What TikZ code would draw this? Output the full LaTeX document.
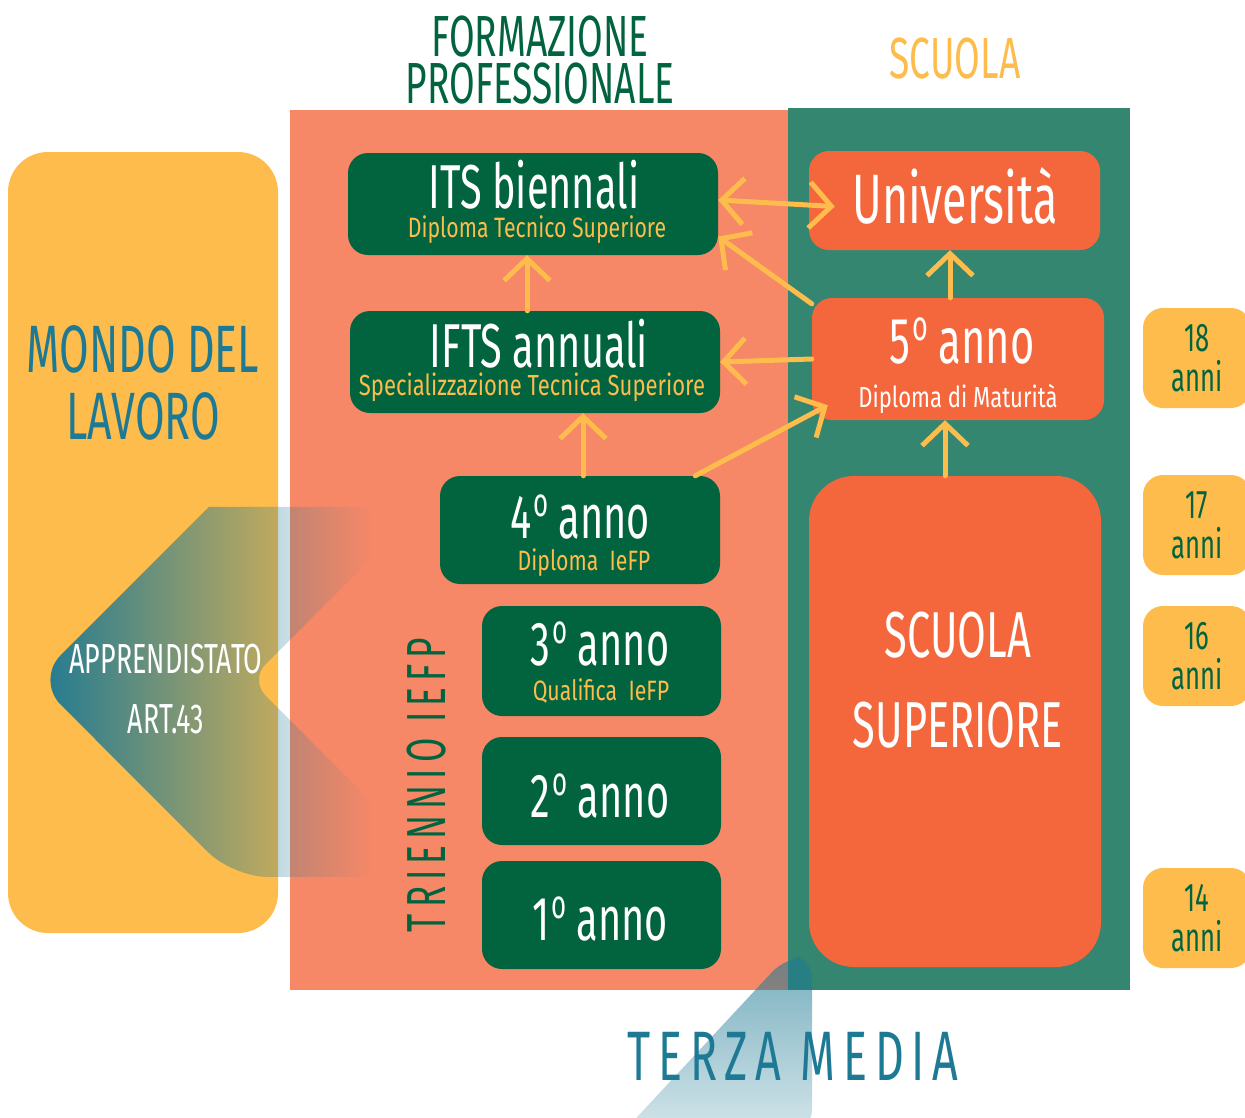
\documentclass[tikz,border=0pt]{standalone}
\usepackage{fontspec}
\setmainfont{Fira Sans}[FakeStretch=0.64]
\newfontfamily\subfam{Fira Sans}[FakeStretch=0.76]
\newfontfamily\spaced{Fira Sans}[FakeStretch=0.64,LetterSpace=11]
\usetikzlibrary{arrows.meta,fadings}

\definecolor{giallo}{RGB}{253,188,75}
\definecolor{verdescuro}{RGB}{2,100,63}
\definecolor{salmone}{RGB}{246,136,104}
\definecolor{verdepan}{RGB}{52,134,112}
\definecolor{arancio}{RGB}{244,103,61}
\definecolor{blu}{RGB}{30,122,148}

\newcommand\setsz[1]{\fontsize{#1}{#1}\selectfont}
\newcommand\ordo{\kern.03em\raisebox{.34em}{\scalebox{.65}{o}}}

\tikzfading[name=fadeR, left color=transparent!0, right color=transparent!100]
\tikzfading[name=fadeD, top color=transparent!40, bottom color=transparent!80]
\tikzset{yb/.tip={Straight Barb[length=22pt,width=46pt]}}

\begin{document}
\begin{tikzpicture}[x=1pt,y=-1pt,
  fpbox/.style={fill=verdescuro, rounded corners=20pt, inner sep=0pt},
  scbox/.style={fill=arancio, rounded corners=20pt, inner sep=0pt},
  eta/.style={fill=giallo, rounded corners=20pt, inner sep=0pt,
    minimum width=108pt, minimum height=100pt, text=verdescuro,
    align=center, font=\setsz{40}},
  txt/.style={anchor=base, inner sep=0pt},
  ttl/.style={txt, text=white, font=\setsz{62}},
  sub/.style={txt, text=giallo, font=\subfam\setsz{28}},
  freccia/.style={draw=giallo, line width=5pt, line cap=round, -yb}]

\useasboundingbox (0,0) rectangle (1245,1117);

% fondi
\fill[giallo, rounded corners=40pt] (8,152) rectangle (278,933);
\fill[salmone] (290,110) rectangle (788,990);
\fill[verdepan] (788,108) rectangle (1130,990);

% apprendistato e terza media
\fill[blu, path fading=fadeR]
  (290,507) -- (370,507) -- (370,560) [rounded corners=22pt] -- (250,680)
  [sharp corners] -- (370,800) -- (370,877) [rounded corners=35pt] -- (233,877)
  -- (36,680) [sharp corners] -- (209,507) -- cycle;
\fill[blu, path fading=fadeD, rounded corners=20pt]
  (625,1130) -- (786,957) -- (812,957) -- (812,1130) -- cycle;

% caselle
\node[fpbox, minimum width=370pt, minimum height=102pt] (its) at (533,204) {};
\node[fpbox, minimum width=370pt, minimum height=102pt] (ifts) at (535,362) {};
\node[fpbox, minimum width=280pt, minimum height=108pt] (anno4) at (580,530) {};
\node[fpbox, minimum width=239pt, minimum height=110pt] (anno3) at (601.5,661) {};
\node[fpbox, minimum width=239pt, minimum height=108pt] (anno2) at (601.5,791) {};
\node[fpbox, minimum width=239pt, minimum height=108pt] (anno1) at (601.5,915) {};
\node[scbox, minimum width=291pt, minimum height=99pt] (uni) at (954.5,200.5) {};
\node[scbox, minimum width=292pt, minimum height=122pt] (anno5) at (958,359) {};
\node[scbox, rounded corners=45pt, minimum width=292pt, minimum height=491pt] (superiore) at (955,721.5) {};

% frecce
\draw[freccia, yb-yb] ([yshift=4pt]its.east) -- ([xshift=26pt,yshift=-6pt]uni.west);
\draw[freccia] ([yshift=-6pt]anno5.north west) -- (its.-10);
\draw[freccia] (anno5.west) -- (ifts.east);
\draw[freccia] ([xshift=-25pt]anno4.north east) -- ([xshift=16pt,yshift=15pt]anno5.south west);
\draw[freccia] ([xshift=3pt]anno4.north) -- ([xshift=3pt]anno4.north |- ifts.south);
\draw[freccia] ([xshift=-8pt]ifts.north) -- ([xshift=-8pt]ifts.north |- its.south);
\draw[freccia] ([xshift=-8pt]anno5.north) -- ([xshift=-8pt]anno5.north |- uni.south);
\draw[freccia] ([xshift=-10pt]superiore.north) -- ([xshift=-10pt]superiore.north |- anno5.south);

% testi
\node[txt, text=verdescuro, font=\setsz{58}] (fp1) at (540,56) {FORMAZIONE};
\node[txt, text=verdescuro, font=\setsz{58}] (fp2) at (540,103) {PROFESSIONALE};
\node[txt, text=giallo, font=\setsz{58}] (scuola) at (955,78) {SCUOLA};
\node[txt, text=blu, font=\setsz{67}] (mondo1) at (143,372) {MONDO DEL};
\node[txt, text=blu, font=\setsz{67}] (mondo2) at (143,439) {LAVORO};
\node[txt, text=white, font=\setsz{42}] (app1) at (166,673) {APPRENDISTATO};
\node[txt, text=white, font=\setsz{42}] (app2) at (166,733) {ART.43};

\node[ttl] (its-t) at (534,208) {ITS biennali};
\node[sub] (its-s) at (537,237) {Diploma Tecnico Superiore};
\node[ttl] (ifts-t) at (539,367) {IFTS annuali};
\node[sub, font=\subfam\setsz{29}] (ifts-s) at (532,395) {Specializzazione Tecnica Superiore};
\node[ttl] (anno4-t) at (580,538) {4\ordo\ anno};
\node[sub] (anno4-s) at (584,570) {Diploma\ \ IeFP};
\node[ttl] (anno3-t) at (600,665) {3\ordo\ anno};
\node[sub] (anno3-s) at (601,700) {Qualifica\ \ IeFP};
\node[ttl] (anno2-t) at (600,817) {2\ordo\ anno};
\node[ttl] (anno1-t) at (600,940) {1\ordo\ anno};
\node[ttl, font=\setsz{70}] (uni-t) at (955,223) {Università};
\node[ttl, font=\setsz{65}] (anno5-t) at (962,363) {5\ordo\ anno};
\node[sub, text=white, font=\subfam\setsz{29}] (anno5-s) at (958,407) {Diploma di Maturità};
\node[ttl, font=\setsz{65}] (sup1) at (958,657) {SCUOLA};
\node[ttl, font=\setsz{65}] (sup2) at (958,747) {SUPERIORE};

\node[txt, rotate=90, text=verdescuro, font=\spaced\setsz{55}] (triennio) at (445,785) {TRIENNIO IEFP};
\node[txt, text=blu, font=\spaced\setsz{70}] (terza) at (793,1080) {TERZA MEDIA};

% eta
\node[eta] (e18) at (1197,358) {18\\anni};
\node[eta] (e17) at (1197,525) {17\\anni};
\node[eta] (e16) at (1197,656) {16\\anni};
\node[eta] (e14) at (1197,918) {14\\anni};

\end{tikzpicture}
\end{document}
